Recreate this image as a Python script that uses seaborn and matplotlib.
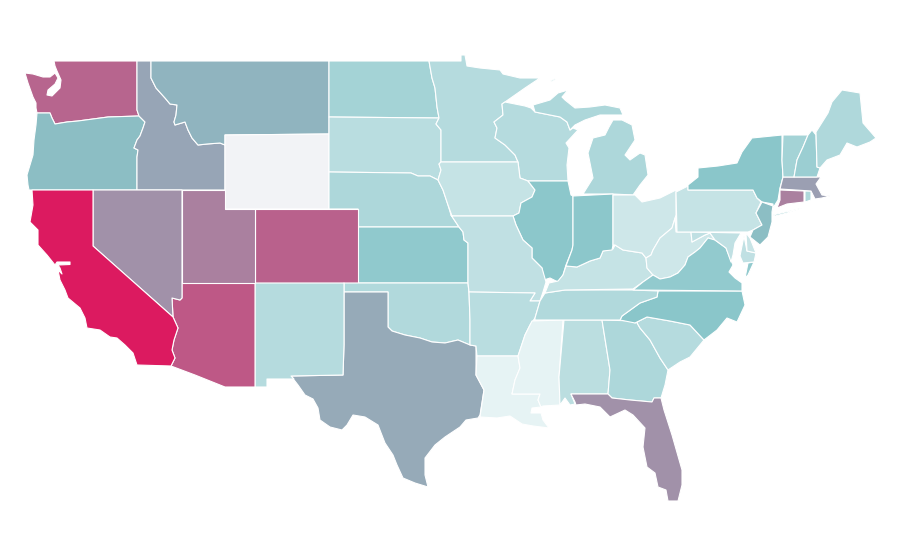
import matplotlib
matplotlib.use('Agg')
import matplotlib.pyplot as plt
import numpy as np
import seaborn as sns
from matplotlib.collections import PolyCollection

# state outlines, in map units (one ring per land part)
WA = [[(54,61),(137,61),(137,110),(139,116),(108,117),(93,119),(78,121),(67,122),(55,124),(52,118),(50,113),(37,113),(36,108),(36,103),(33,97),(28,83),(25,73),(33,74),(43,77),(50,77),(55,73),(58,78),(55,84),(48,90),(47,95),(52,96),(60,88),(61,80),(57,71),(55,66)]]
OR = [[(37,113),(50,113),(52,118),(55,124),(67,122),(78,121),(93,119),(108,117),(139,116),(145,122),(143,128),(140,136),(137,140),(134,148),(138,150),(137,157),(137,190),(29,190),(28,185),(27,175),(30,165),(33,155),(34,140),(36,125)]]
ID = [[(137,61),(151,61),(151,78),(156,88),(165,98),(170,104),(177,105),(176,115),(174,122),(175,125),(185,122),(188,130),(192,138),(198,145),(207,144),(220,143),(225,145),(225,190),(137,190),(137,157),(138,150),(134,148),(137,140),(140,136),(143,128),(145,122),(139,116),(137,110)]]
MT = [[(151,61),(329,61),(329,134),(225,135),(225,145),(220,143),(207,144),(198,145),(192,138),(188,130),(185,122),(175,125),(174,122),(176,115),(177,105),(170,104),(165,98),(156,88),(151,78)]]
WY = [[(225,135),(329,134),(329,209),(225,209)]]
ND = [[(329,61),(429,61),(432,78),(435,88),(437,107),(439,118),(329,117)]]
SD = [[(329,117),(439,118),(436,124),(441,130),(441,162),(439,164),(441,170),(438,180),(430,176),(418,176),(411,173),(329,172)]]
NE = [[(329,172),(411,173),(418,176),(430,176),(438,180),(443,190),(448,205),(451,215),(459,227),(358,227),(358,209),(329,209)]]
KS = [[(358,227),(459,227),(463,232),(464,240),(468,243),(468,283),(358,283)]]
CO = [[(255,209),(358,209),(358,283),(255,283)]]
OK = [[(344,283),(468,283),(469,293),(470,320),(470,345),(458,340),(445,343),(432,342),(420,338),(405,335),(392,331),(388,327),(388,292),(344,292)]]
TX = [[(344,292),(388,292),(388,327),(392,331),(405,335),(420,338),(432,342),(445,343),(458,340),(470,345),(476,346),(476,375),(484,390),(480,415),(478,418),(466,420),(460,427),(445,437),(435,445),(425,458),(425,475),(428,487),(415,483),(403,478),(397,465),(393,455),(385,443),(378,425),(365,417),(353,415),(347,425),(342,430),(330,427),(320,420),(318,408),(313,399),(305,395),(298,385),(291,376),(343,375),(344,345)]]
NM = [[(255,283),(344,283),(344,345),(343,375),(291,376),(294,379),(267,379),(267,387),(255,387)]]
AZ = [[(182,283),(255,283),(255,387),(225,387),(195,375),(171,366),(175,358),(172,350),(174,340),(178,328),(173,317),(172,298),(180,300),(182,298)]]
NV = [[(93,190),(182,190),(182,298),(180,300),(172,298),(173,317),(93,246)]]
UT = [[(182,190),(225,190),(225,209),(255,209),(255,283),(182,283)]]
CA = [[(32,190),(93,190),(93,246),(173,317),(178,328),(174,340),(172,350),(175,358),(171,366),(137,365),(133,353),(125,345),(117,338),(110,337),(100,330),(87,328),(85,318),(80,308),(68,298),(65,290),(60,280),(58,270),(62,274),(60,268),(58,265),(70,264.5),(70,262),(57,262),(55,265),(47,255),(38,245),(38,230),(30,222),(33,205)]]
MN = [[(429,61),(461,61),(461,55),(465,55),(467,66),(480,68),(500,70),(503,74),(520,78),(540,78),(525,88),(505,102),(502,104),(503,115),(494,122),(497,128),(495,138),(505,145),(515,155),(518,162),(441,162),(441,130),(436,124),(439,118),(437,107),(435,88),(432,78)]]
WI = [[(502,104),(505,102),(525,106),(531,108),(535,112),(560,117),(567,122),(570,130),(573,128),(578,130),(566,143),(569,148),(567,165),(568,181),(528,181),(520,178),(518,162),(515,155),(505,145),(495,138),(497,128),(494,122),(503,115)]]
MI = [[(533,105),(550,100),(558,93),(568,90),(562,97),(565,100),(575,108),(590,107),(605,105),(620,108),(623,115),(600,115),(585,120),(575,125),(570,130),(567,122),(560,117),(535,112)],
      [(613,120),(622,120),(632,125),(635,140),(625,155),(630,160),(640,153),(645,155),(648,175),(640,185),(633,195),(613,194),(583,194),(593,178),(590,163),(588,153),(593,138),(605,135),(609,127)],
      [(550,81),(556,78),(555,80),(551,82)]]
IA = [[(441,162),(518,162),(520,178),(528,181),(535,190),(532,197),(521,203),(519,213),(513,216),(452,216),(448,205),(443,190),(438,180),(441,170),(439,164)]]
IL = [[(528,181),(568,181),(571,195),(573,196),(573,245),(572,250),(566,265),(563,275),(558,282),(550,278),(544,280),(542,268),(532,258),(532,248),(523,240),(516,225),(513,216),(519,213),(521,203),(532,197),(535,190)]]
MO = [[(452,216),(513,216),(516,225),(523,240),(532,248),(532,258),(542,268),(546,282),(543,292),(540,301),(530,301),(535,293),(469,292),(468,283),(468,243),(464,240),(463,232),(459,227),(451,215)]]
AR = [[(469,292),(535,293),(530,301),(540,301),(535,318),(530,325),(525,335),(518,356),(477,356),(476,346),(470,345),(470,320)]]
LA = [[(477,356),(518,356),(520,368),(515,380),(512,394),(540,394),(538,400),(541,407),(532,408),(531,413),(541,413),(543,420),(549,428),(533,426),(522,424),(510,416),(497,418),(480,417),(484,390),(476,375)]]
MS = [[(532,321),(563,320),(559,377),(560,405),(543,406),(541,407),(538,400),(540,394),(512,394),(515,380),(520,368),(518,356),(525,335)]]
AL = [[(564,320),(602,320),(610,370),(608,394),(571,394),(575,404),(570,405),(565,398),(560,405),(559,377)]]
GA = [[(602,320),(636,321),(640,328),(650,340),(660,358),(668,370),(665,385),(661,398),(654,398),(652,402),(630,400),(612,398),(608,394),(610,370)]]
FL = [[(571,394),(608,394),(612,398),(630,400),(652,402),(654,398),(661,398),(664,410),(672,435),(682,470),(682,485),(678,501),(668,501),(666,490),(658,487),(655,473),(647,467),(643,447),(645,428),(633,415),(625,410),(610,417),(600,407),(585,404),(576,405),(575,402)]]
SC = [[(636,321),(635,323),(647,317),(670,321),(690,325),(704,340),(690,357),(680,362),(668,370),(660,358),(650,340),(640,328)]]
NC = [[(658,291),(742,291),(745,305),(737,322),(727,318),(717,330),(704,340),(690,325),(670,321),(647,317),(635,323),(620,320),(622,316),(640,303),(657,297)]]
TN = [[(545,293),(565,290),(633,290),(658,291),(657,297),(640,303),(622,316),(620,320),(535,320),(535,318),(540,301)]]
KY = [[(549,283),(558,281),(563,275),(566,266),(577,267),(590,261),(600,258),(603,251),(613,249),(615,245),(623,250),(642,253),(646,258),(647,268),(653,275),(643,282),(633,289),(565,290),(545,293)]]
IN = [[(573,196),(613,194),(613,245),(612,250),(603,251),(600,258),(590,261),(577,267),(566,266),(572,250),(573,245)]]
OH = [[(613,195),(635,195),(642,202),(660,198),(676,190),(676,215),(672,228),(660,238),(653,250),(651,255),(646,258),(642,253),(623,250),(615,245),(613,245)]]
WV = [[(646,258),(651,255),(653,250),(660,238),(672,228),(675,218),(676,232),(691,232),(692,242),(705,235),(710,233),(715,240),(708,238),(700,248),(695,252),(688,257),(685,265),(678,273),(670,277),(660,279),(653,275),(647,268)]]
VA = [[(633,290),(643,282),(653,275),(660,279),(670,277),(678,273),(685,265),(688,257),(695,252),(700,248),(708,238),(715,240),(726,248),(730,258),(733,265),(729,272),(735,278),(742,283),(742,291)],
      [(748,263),(754,262),(748,275),(745,278)]]
MD = [[(691,232),(741,233),(735,243),(733,255),(731,262),(726,248),(715,240),(710,233),(705,235),(692,242)],
      [(744,236),(747,251),(756,253),(754,262),(743,263),(740,256),(742,246)]]
DE = [[(746,233),(750,238),(756,253),(747,251)]]
PA = [[(676,192),(688,186),(688,190),(753,190),(757,198),(761,202),(756,213),(762,225),(753,230),(748,232),(677,232)]]
NY = [[(688,190),(688,185),(698,177),(698,168),(718,166),(737,163),(742,152),(752,138),(782,135),(782,160),(783,177),(780,188),(778,200),(773,208),(773,204),(762,202),(757,198),(753,190)],
      [(773,215),(802,208),(787,213),(775,216)]]
NJ = [[(762,202),(773,206),(772,212),(772,222),(768,237),(760,245),(750,237),(753,230),(762,225),(756,213)]]
CT = [[(780,190),(804,191),(804,202),(787,204),(777,208),(780,200)]]
RI = [[(805,191),(811,191),(811,200),(805,202)]]
MA = [[(783,177),(817,177),(821,177),(816,184),(822,195),(830,196),(822,198),(815,199),(811,191),(780,189)]]
VT = [[(783,135),(808,135),(803,147),(797,160),(794,177),(783,177),(782,160)]]
NH = [[(812,130),(816,135),(817,167),(820,168),(817,177),(794,177),(797,160),(803,147),(808,135)]]
ME = [[(816,132),(828,113),(832,102),(842,90),(860,93),(863,123),(876,138),(870,142),(857,147),(847,143),(840,155),(827,160),(820,168),(817,167)]]

states = ['WA','OR','ID','MT','WY','ND','SD','NE','KS','CO','OK','TX','NM','AZ','NV','UT','CA',
          'MN','WI','MI','IA','IL','MO','AR','LA','MS','AL','GA','FL','SC','NC','TN','KY','IN',
          'OH','WV','VA','MD','DE','PA','NY','NJ','CT','RI','MA','VT','NH','ME']
outlines = [WA,OR,ID,MT,WY,ND,SD,NE,KS,CO,OK,TX,NM,AZ,NV,UT,CA,
            MN,WI,MI,IA,IL,MO,AR,LA,MS,AL,GA,FL,SC,NC,TN,KY,IN,
            OH,WV,VA,MD,DE,PA,NY,NJ,CT,RI,MA,VT,NH,ME]
# values, WY has no data
values = [78,52,59,55,np.nan,36,26,32,46,79,30,58,28,82,65,70,100,
          28,28,32,20,48,23,26,4,4,25,32,65,28,49,30,20,48,
          16,16,45,23,19,20,49,52,70,31,61,36,41,31]

sns.set_style('white')
cmap = sns.blend_palette(['#eef7f8', '#88c5c9', '#dc1a60'], as_cmap=True)
cmap.set_bad('#f2f3f6')

rings = []
ring_values = []
for outline, value in zip(outlines, values):
    for ring in outline:
        rings.append(ring)
        ring_values.append(value)

fig, ax = plt.subplots(figsize=(9, 5.6), dpi=100)
fig.subplots_adjust(left=0, right=1, top=1, bottom=0)
land = PolyCollection(rings, cmap=cmap, edgecolors='white', linewidths=0.8)
land.set_array(np.ma.masked_invalid(ring_values))
land.set_clim(0, 100)
ax.add_collection(land)
ax.set_xlim(0, 900)
ax.set_ylim(560, 0)
ax.axis('off')
plt.savefig('out.png', dpi=100)
